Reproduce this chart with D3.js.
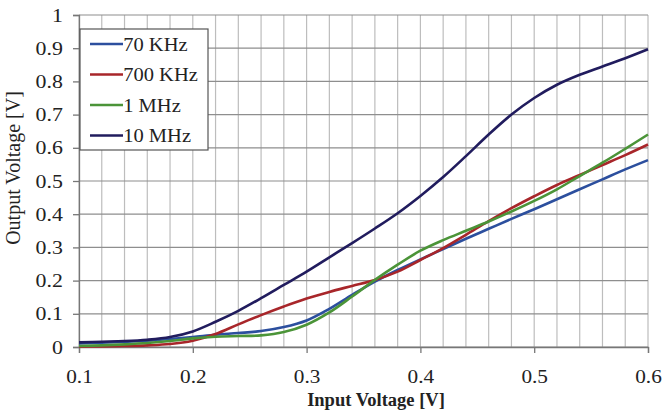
<!DOCTYPE html>
<html>
<head>
<meta charset="utf-8">
<script src="https://cdn.jsdelivr.net/npm/d3@7"></script>
<style>
  body { margin: 0; background: #fff; }
  svg text { font-family: "Liberation Serif", "Times New Roman", serif; fill: #222; }
</style>
</head>
<body>
<div id="chart"></div>
<script>
// input voltage samples [V]
const inputV = [0.10, 0.12, 0.14, 0.16, 0.18, 0.20, 0.22, 0.24, 0.26, 0.28, 0.30, 0.32, 0.34,
                0.36, 0.38, 0.40, 0.42, 0.44, 0.46, 0.48, 0.50, 0.52, 0.54, 0.56, 0.58, 0.60];

// output voltage [V] per frequency
const out70k  = [0.011, 0.013, 0.016, 0.019, 0.024, 0.030, 0.037, 0.042, 0.048, 0.060, 0.080, 0.115, 0.157,
                 0.197, 0.232, 0.264, 0.295, 0.326, 0.356, 0.386, 0.415, 0.445, 0.475, 0.505, 0.535, 0.563];
const out700k = [0.001, 0.002, 0.003, 0.005, 0.009, 0.019, 0.039, 0.068, 0.096, 0.122, 0.146, 0.166, 0.184,
                 0.202, 0.227, 0.262, 0.298, 0.338, 0.379, 0.418, 0.454, 0.488, 0.518, 0.548, 0.578, 0.610];
const out1M   = [0.003, 0.005, 0.008, 0.012, 0.018, 0.026, 0.031, 0.033, 0.035, 0.045, 0.067, 0.104, 0.152,
                 0.202, 0.248, 0.290, 0.322, 0.350, 0.378, 0.408, 0.440, 0.475, 0.515, 0.555, 0.597, 0.640];
const out10M  = [0.014, 0.016, 0.018, 0.022, 0.030, 0.047, 0.076, 0.109, 0.147, 0.187, 0.227, 0.270, 0.313,
                 0.357, 0.403, 0.455, 0.512, 0.575, 0.640, 0.700, 0.750, 0.790, 0.820, 0.845, 0.870, 0.897];

const seriesNames = ["70 KHz", "700 KHz", "1 MHz", "10 MHz"];
const seriesVals = [out70k, out700k, out1M, out10M];
const colors = ["#2c4f9e", "#a8262a", "#4b9438", "#211c5e"];

const xTicks = [0.1, 0.2, 0.3, 0.4, 0.5, 0.6];
const yTicks = [0, 0.1, 0.2, 0.3, 0.4, 0.5, 0.6, 0.7, 0.8, 0.9, 1];

const width = 663, height = 410;
const margin = {left: 79, right: 15, top: 15, bottom: 63};

const svg = d3.select("#chart").append("svg")
    .attr("width", width)
    .attr("height", height);

const x = d3.scaleLinear().domain([0.1, 0.6]).range([margin.left, width - margin.right]);
const y = d3.scaleLinear().domain([0, 1]).range([height - margin.bottom, margin.top]);

// grid
const g = svg.append("g");
g.selectAll("line.vg")
    .data(d3.range(0, 26).map(i => 0.1 + i * 0.02))
  .enter().append("line")
    .attr("x1", d => x(d)).attr("x2", d => x(d))
    .attr("y1", y(0)).attr("y2", y(1))
    .attr("stroke", "#bdbdbd").attr("stroke-width", 1.2);
g.selectAll("line.hg")
    .data(yTicks)
  .enter().append("line")
    .attr("x1", x(0.1)).attr("x2", x(0.6))
    .attr("y1", d => y(d)).attr("y2", d => y(d))
    .attr("stroke", "#8e8e8e").attr("stroke-width", 1.2);

// axes
const xAxis = svg.append("g")
    .attr("transform", "translate(0," + y(0) + ")")
    .call(d3.axisBottom(x).tickValues(xTicks).tickFormat(d3.format(".1f")).tickSize(6));
const yAxis = svg.append("g")
    .attr("transform", "translate(" + x(0.1) + ",0)")
    .call(d3.axisLeft(y).tickValues(yTicks).tickFormat(d => d === 0 ? "0" : d === 1 ? "1" : d3.format(".1f")(d)).tickSize(6).tickPadding(8));

[xAxis, yAxis].forEach(a => {
  a.attr("font-family", null);
  a.select(".domain").attr("stroke", "#777").attr("stroke-width", 1.3);
  a.selectAll(".tick line").attr("stroke", "#777").attr("stroke-width", 1.3);
  a.selectAll(".tick text")
      .attr("font-size", 19)
      .attr("fill", "#333");
});
xAxis.selectAll(".tick text").attr("transform", "scale(1.12,1)").attr("dy", 0).attr("y", 36);
yAxis.selectAll(".tick text").attr("transform", "scale(1.15,1)");

// lines
const line = d3.line()
    .x((d, i) => x(inputV[i]))
    .y(d => y(d))
    .curve(d3.curveCatmullRom.alpha(0.5));

svg.selectAll("path.series")
    .data(seriesVals)
  .enter().append("path")
    .attr("class", "series")
    .attr("d", d => line(d))
    .attr("fill", "none")
    .attr("stroke", (d, i) => colors[i])
    .attr("stroke-width", 2.6);

// legend
const leg = svg.append("g").attr("transform", "translate(80,29)");
leg.append("rect")
    .attr("width", 128).attr("height", 121)
    .attr("fill", "#fff").attr("stroke", "#555").attr("stroke-width", 1.2);
const items = leg.selectAll("g.item")
    .data(seriesNames)
  .enter().append("g")
    .attr("transform", (d, i) => "translate(0," + (15 + i * 30.5) + ")");
items.append("line")
    .attr("x1", 10).attr("x2", 43)
    .attr("stroke", (d, i) => colors[i]).attr("stroke-width", 2.6);
items.append("text")
    .attr("x", 40).attr("dy", "0.35em")
    .attr("font-size", 19)
    .attr("transform", "scale(1.08,1)")
    .text(d => d);

// axis titles
svg.append("text")
    .attr("transform", "translate(20,168) rotate(-90)")
    .attr("text-anchor", "middle")
    .attr("font-size", 20)
    .text("Output Voltage [V]");
svg.append("text")
    .attr("x", 376).attr("y", 406)
    .attr("text-anchor", "middle")
    .attr("font-size", 18.5)
    .attr("font-weight", "bold")
    .attr("fill", "#333")
    .text("Input Voltage [V]");
</script>
</body>
</html>
